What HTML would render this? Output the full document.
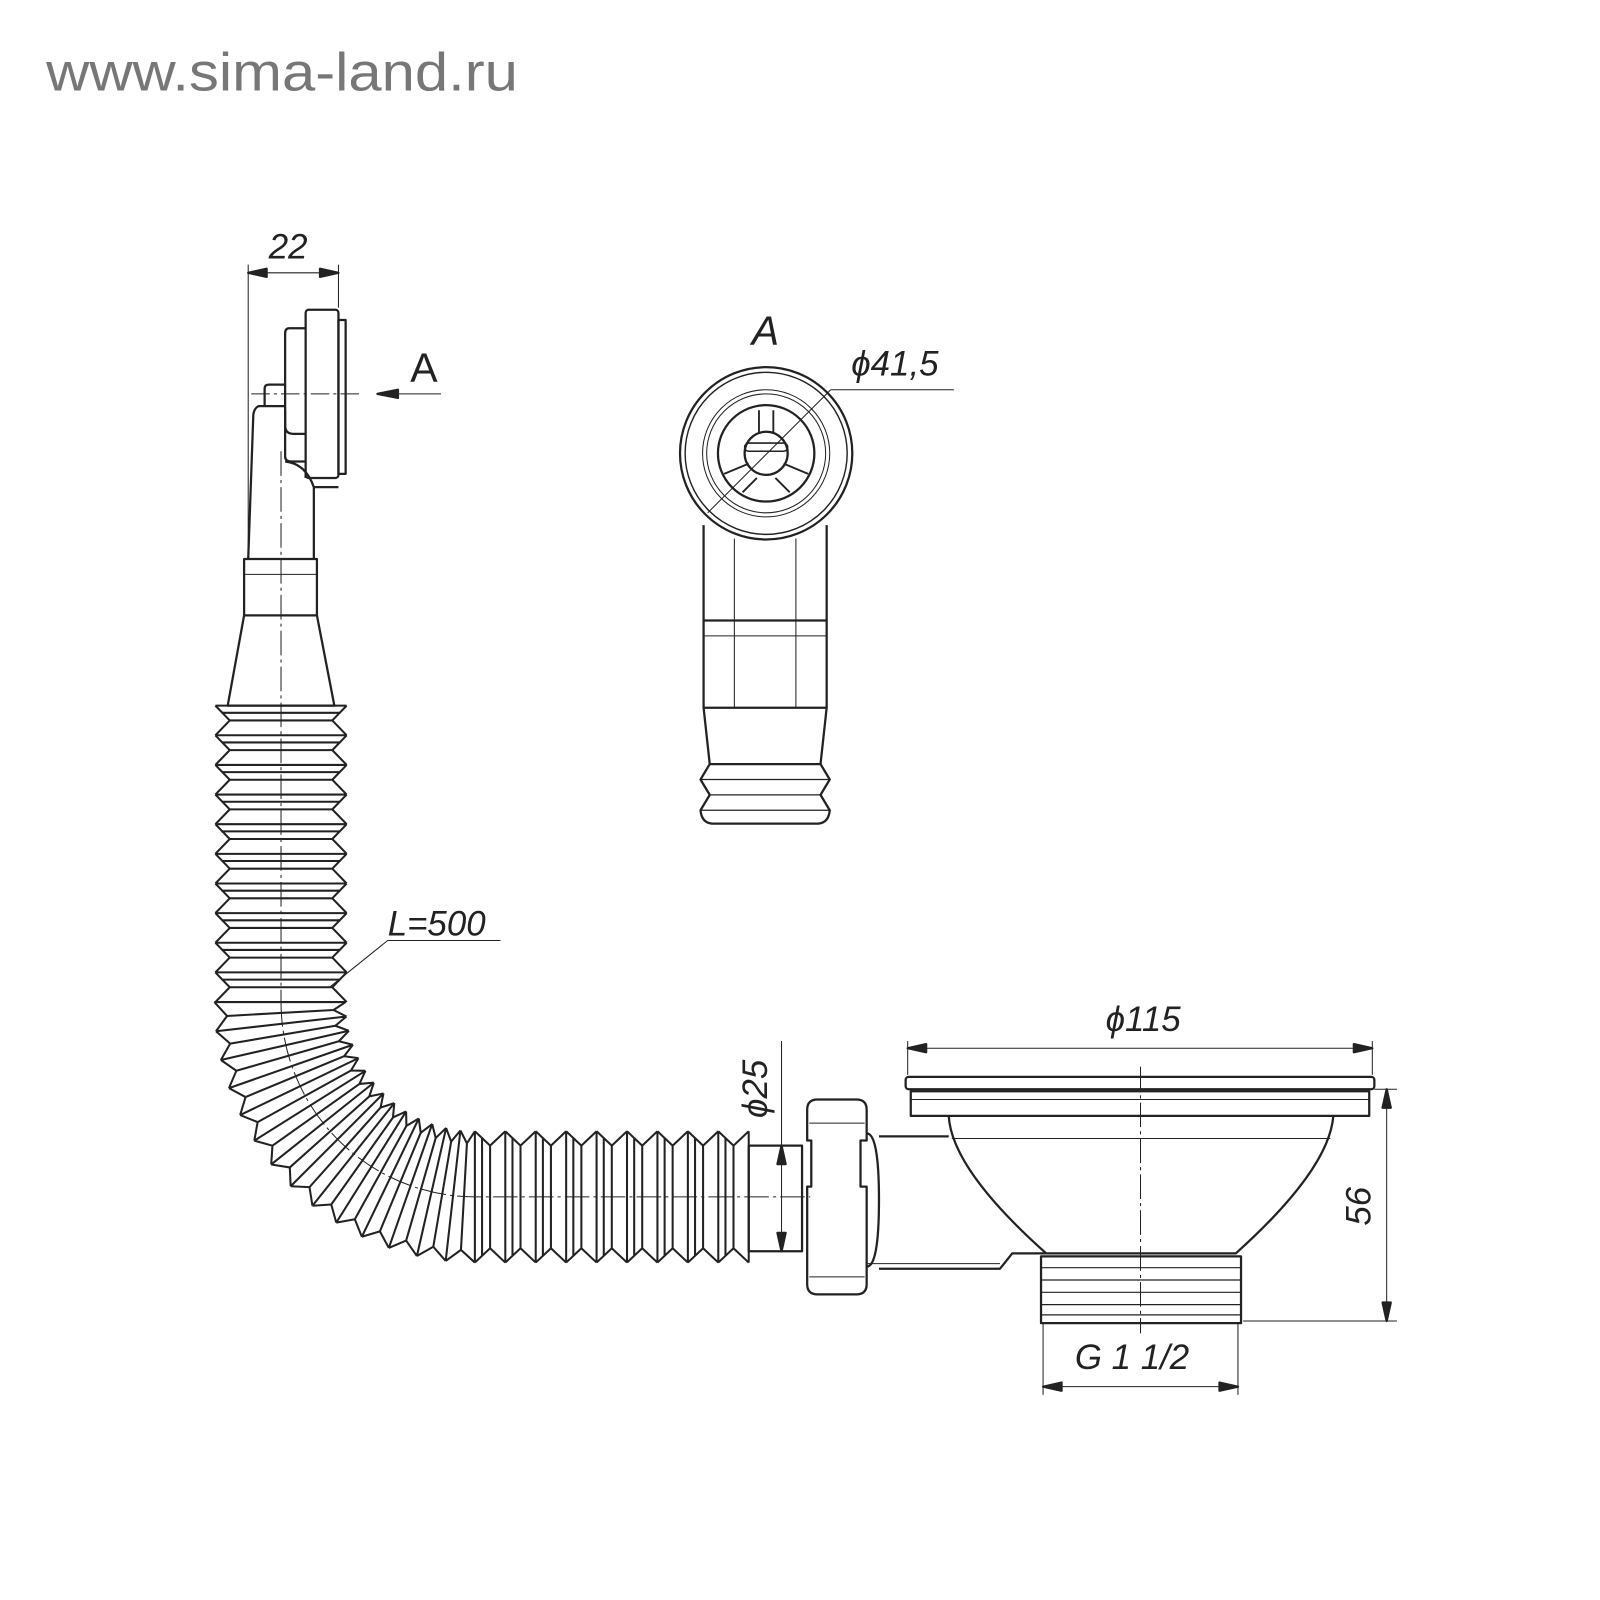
<!DOCTYPE html>
<html><head><meta charset="utf-8"><style>
html,body{margin:0;padding:0;background:#fff;width:1600px;height:1600px;overflow:hidden}
svg{display:block}
text{font-family:"Liberation Sans",sans-serif;font-style:italic;fill:#222}
</style></head><body>
<svg width="1600" height="1600" viewBox="0 0 1560 1560" xmlns="http://www.w3.org/2000/svg">
<defs>
<path id="vs" d="M-64 0 L-50 14.45 L-64 28.9 M64 0 L50 14.45 L64 28.9 M-64 0 H64 M-50 14.45 H50 M-58 7 H58" />
<path id="bs" d="M-254 0 L-241.62 13.57 L-252.4 28.44 M-126 0 L-137.78 7.74 L-125.21 14.11 M-254 0 H-126 M-241.62 13.57 L-137.78 7.74" />
<path id="hs" d="M0 -64 L14.83 -50 L29.67 -64 M0 64 L14.83 50 L29.67 64 M0 -64 V64 M14.83 -50 V50 M7 -58 V58" />
</defs>
<text x="45" y="88" style="font-style:normal;fill:#777" font-size="52" textLength="460" lengthAdjust="spacingAndGlyphs">www.sima-land.ru</text>
<g fill="none" stroke="#222" stroke-width="2.2" stroke-linejoin="round">
<line x1="242" y1="258" x2="242" y2="545" stroke-width="1"/>
<line x1="330" y1="258" x2="330" y2="300" stroke-width="1"/>
<line x1="242" y1="266" x2="330" y2="266" stroke-width="1"/>
<path d="M242 266 l18 -4 v8z M330 266 l-18 -4 v8z" fill="#222"/>
<text x="262" y="252" font-size="34" stroke="none">22</text>
<rect x="298" y="302" width="32" height="164" rx="3"/>
<rect x="330" y="312" width="7" height="150"/>
<path d="M298 320 h-16 q-4 0 -4 5 v90 q0 8 8 8 h12"/>
<path d="M258 395 v-16 q0 -4 4 -4 h16"/>
<path d="M278 396 h-26 q-4 2 -5 8 l-5 141 M278 400 v45 q0 5 6 5 h14 M278 450 q20 2 28 25 v70 M298 466 v-3"/>
<path d="M306 475 h24"/>
<line x1="245" y1="384" x2="350" y2="384" stroke-width="1" stroke-dasharray="18 4 3 4"/>
<line x1="370" y1="384" x2="430" y2="384" stroke-width="1"/>
<path d="M368 384 l20 -4 v8z" fill="#222"/>
<text x="400" y="372" font-size="40" stroke="none" style="font-style:normal">A</text>
<rect x="238" y="545" width="71" height="55"/>
<line x1="238" y1="560" x2="309" y2="560" stroke-width="1"/>
<path d="M238 600 L222 688 H326 L309 600"/>
<line x1="274" y1="440" x2="274" y2="977" stroke-width="1" stroke-dasharray="24 4 3 4"/>
<g stroke-width="2">
<use href="#vs" transform="translate(274 688)"/>
<use href="#vs" transform="translate(274 716.9)"/>
<use href="#vs" transform="translate(274 745.8)"/>
<use href="#vs" transform="translate(274 774.7)"/>
<use href="#vs" transform="translate(274 803.6)"/>
<use href="#vs" transform="translate(274 832.5)"/>
<use href="#vs" transform="translate(274 861.4)"/>
<use href="#vs" transform="translate(274 890.3)"/>
<use href="#vs" transform="translate(274 919.2)"/>
<use href="#vs" transform="translate(274 948.1)"/>
<use href="#bs" transform="translate(463 977) rotate(0)"/>
<use href="#bs" transform="translate(463 977) rotate(-6.4286)"/>
<use href="#bs" transform="translate(463 977) rotate(-12.857)"/>
<use href="#bs" transform="translate(463 977) rotate(-19.286)"/>
<use href="#bs" transform="translate(463 977) rotate(-25.714)"/>
<use href="#bs" transform="translate(463 977) rotate(-32.143)"/>
<use href="#bs" transform="translate(463 977) rotate(-38.571)"/>
<use href="#bs" transform="translate(463 977) rotate(-45)"/>
<use href="#bs" transform="translate(463 977) rotate(-51.429)"/>
<use href="#bs" transform="translate(463 977) rotate(-57.857)"/>
<use href="#bs" transform="translate(463 977) rotate(-64.286)"/>
<use href="#bs" transform="translate(463 977) rotate(-70.714)"/>
<use href="#bs" transform="translate(463 977) rotate(-77.143)"/>
<use href="#bs" transform="translate(463 977) rotate(-83.571)"/>
<use href="#hs" transform="translate(463 1167)"/>
<use href="#hs" transform="translate(492.67 1167)"/>
<use href="#hs" transform="translate(522.33 1167)"/>
<use href="#hs" transform="translate(552 1167)"/>
<use href="#hs" transform="translate(581.67 1167)"/>
<use href="#hs" transform="translate(611.33 1167)"/>
<use href="#hs" transform="translate(641 1167)"/>
<use href="#hs" transform="translate(670.67 1167)"/>
<use href="#hs" transform="translate(700.33 1167)"/>
<line x1="730" y1="1103" x2="730" y2="1231"/>
</g>
<path d="M274 977 A190 190 0 0 0 463 1167 H790" stroke-width="1" stroke-dasharray="24 4 3 4"/>
<rect x="730" y="1117" width="52" height="103"/>
<path d="M797 1072 h38 q10 0 10 10 v30 h-6 v45 h6 v95 q0 10 -10 10 h-38 q-10 0 -10 -10 v-95 h4 v-45 h-4 v-30 q0 -10 10 -10z"/>
<line x1="789" y1="1095" x2="843" y2="1095" stroke-width="1"/>
<line x1="789" y1="1245" x2="843" y2="1245" stroke-width="1"/>
<path d="M845 1105 q12 0 12 65 q0 65 -12 65"/>
<path d="M857 1108 H925 M857 1237 H975 l12 -15 h33"/>
<line x1="845" y1="1232" x2="975" y2="1232" stroke-width="1"/>
<rect x="883" y="1050" width="457" height="12" rx="3"/>
<rect x="888" y="1064" width="447" height="24"/>
<line x1="888" y1="1072" x2="1335" y2="1072" stroke-width="1"/>
<path d="M925 1088 Q928 1140 1020 1222 H1205 Q1296 1140 1300 1088"/>
<path d="M928 1110 H1297" stroke-width="1"/>
<path d="M1015 1225 H1210 V1290 H1015Z"/>
<path d="M1015 1236 H1210 M1015 1248 H1210 M1015 1260 H1210 M1015 1272 H1210 M1015 1282 H1210" stroke-width="1.2"/>
<line x1="1112" y1="1040" x2="1112" y2="1300" stroke-width="1" stroke-dasharray="24 4 3 4"/>
<line x1="885" y1="1015" x2="885" y2="1048" stroke-width="1"/>
<line x1="1338" y1="1015" x2="1338" y2="1048" stroke-width="1"/>
<line x1="885" y1="1022" x2="1338" y2="1022" stroke-width="1"/>
<path d="M885 1022 l18 -4 v8z M1338 1022 l-18 -4 v8z" fill="#222"/>
<text x="1078" y="1005" font-size="34" stroke="none">ϕ115</text>
<line x1="1340" y1="1062" x2="1362" y2="1062" stroke-width="1"/>
<line x1="1212" y1="1288" x2="1362" y2="1288" stroke-width="1"/>
<line x1="1352" y1="1062" x2="1352" y2="1288" stroke-width="1"/>
<path d="M1352 1062 l-4 18 h8z M1352 1288 l-4 -18 h8z" fill="#222"/>
<text transform="translate(1336 1195) rotate(-90)" font-size="34" stroke="none">56</text>
<line x1="1017" y1="1290" x2="1017" y2="1360" stroke-width="1"/>
<line x1="1207" y1="1290" x2="1207" y2="1360" stroke-width="1"/>
<line x1="1017" y1="1352" x2="1207" y2="1352" stroke-width="1"/>
<path d="M1017 1352 l18 -4 v8z M1207 1352 l-18 -4 v8z" fill="#222"/>
<text x="1048" y="1335" font-size="34" stroke="none">G 1 1/2</text>
<line x1="762" y1="1015" x2="762" y2="1220" stroke-width="1"/>
<path d="M762 1117 l-4 18 h8z M762 1220 l-4 -18 h8z" fill="#222"/>
<text transform="translate(748 1090) rotate(-90)" font-size="34" stroke="none">ϕ25</text>
<text x="378" y="912" font-size="34" stroke="none">L=500</text>
<path d="M378 917 H488 M378 917 L322 962" stroke-width="1"/>
<text x="733" y="336" font-size="40" stroke="none">A</text>
<circle cx="747" cy="442" r="84"/>
<circle cx="747" cy="442" r="79" stroke-width="1.4"/>
<circle cx="747" cy="442" r="62" stroke-width="1"/>
<circle cx="747" cy="442" r="58" stroke-width="1"/>
<circle cx="747" cy="442" r="47"/>
<circle cx="747" cy="442" r="21"/>
<rect x="726" y="432" width="42" height="8" rx="4" stroke-width="1.5"/>
<path d="M740 400 v22 M754 400 v22 M706 462 l24 -10 M788 462 l-24 -10 M724 480 l14 -14 M770 480 l-14 -14" stroke-width="1.8"/>
<line x1="690" y1="500" x2="810" y2="380" stroke-width="1"/>
<line x1="810" y1="380" x2="930" y2="380" stroke-width="1"/>
<text x="830" y="366" font-size="34" stroke="none">ϕ41,5</text>
<path d="M686 512 V605 M806 512 V605"/>
<line x1="716" y1="525" x2="716" y2="690" stroke-width="1"/>
<line x1="776" y1="525" x2="776" y2="690" stroke-width="1"/>
<rect x="686" y="605" width="120" height="85"/>
<line x1="686" y1="620" x2="806" y2="620" stroke-width="1"/>
<path d="M686 690 L692 745 H800 L806 690"/>
<path d="M692 745 L683 760 L692 775 L683 790 Q684 802 694 803 H798 Q808 802 809 790 L800 775 L809 760 L800 745"/>
<path d="M683 760 H809 M692 775 H800 M683 790 H809" stroke-width="1.2"/>
</g>
</svg>
</body></html>
